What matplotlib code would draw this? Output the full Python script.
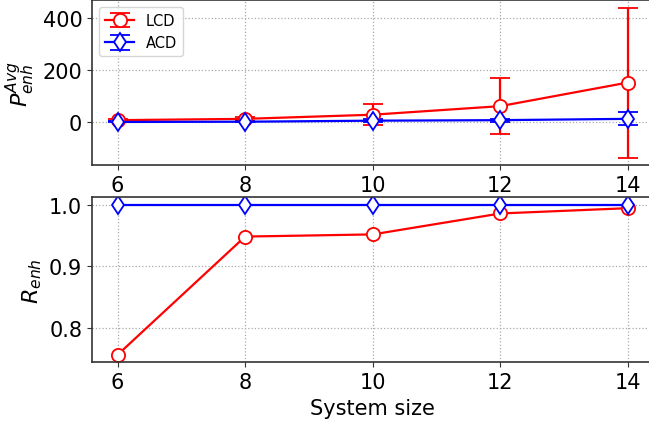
import matplotlib
matplotlib.use("Agg")
import matplotlib.pyplot as plt

sizes = [6, 8, 10, 12, 14]
lcd_p = [8, 13, 29, 62, 153]
lcd_p_err = [3, 8, 40, 107, 289]
acd_p = [1, 2, 6, 8, 13]
acd_p_err = [2, 3, 5, 6, 25]
lcd_r = [0.7565, 0.9485, 0.952, 0.986, 0.9946]
acd_r = [1.0, 1.0, 1.0, 1.0, 1.0]

fig = plt.figure(figsize=(6.49, 4.31), dpi=100)
ax1 = fig.add_axes([0.1418, 0.6148, 0.865, 0.3828])
ax2 = fig.add_axes([0.1418, 0.157, 0.865, 0.3828])

mk = dict(lw=1.6, markersize=9.5, markerfacecolor='white', markeredgewidth=1.3)
ax1.errorbar(sizes, lcd_p, yerr=lcd_p_err, color='red', marker='o', label='LCD',
             capsize=7, capthick=1.5, elinewidth=1.6, **mk)
ax1.errorbar(sizes, acd_p, yerr=acd_p_err, color='blue', marker='d', label='ACD',
             capsize=7, capthick=1.5, elinewidth=1.6, **mk)
ax1.legend(loc='upper left', fontsize=10.5)
ax1.set_ylabel(r'$P_{enh}^{Avg}$', fontsize=16)

ax2.plot(sizes, lcd_r, color='red', marker='o', **mk)
ax2.plot(sizes, acd_r, color='blue', marker='d', **mk)
ax2.set_ylabel(r'$R_{enh}$', fontsize=16)
ax2.set_xlabel('System size', fontsize=15)

for ax in (ax1, ax2):
    ax.set_xticks(sizes)
    ax.tick_params(labelsize=15, color='#333333')
    ax.grid(True, linestyle=':', color='#aaaaaa', lw=0.9)
    ax.set_xlim(5.6, 14.4)
    for s in ax.spines.values():
        s.set_color('#333333')
        s.set_linewidth(1.2)
ax1.set_yticks([0, 200, 400])
ax2.set_yticks([0.8, 0.9, 1.0])

fig.savefig('out.png', dpi=100)
